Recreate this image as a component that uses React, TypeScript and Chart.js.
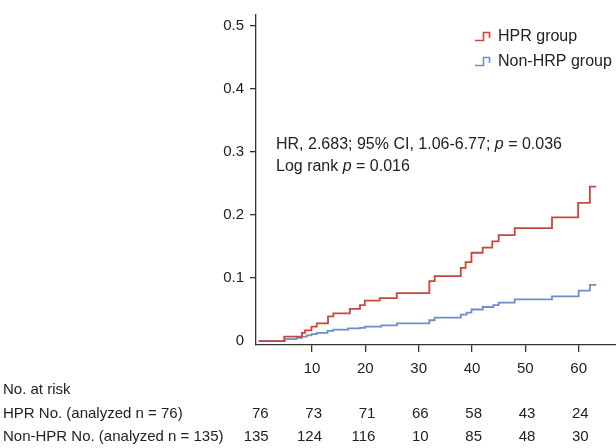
import React, { useEffect, useRef } from "react";
import { Chart, registerables } from "chart.js";

Chart.register(...registerables);

const FONT = '"Liberation Sans", Arial, Helvetica, sans-serif';
const TEXT = "#222222";
const AXIS = "#333333";
const RED = "#c8463c";
const BLUE = "#6b8fc6";

const seriesNames = ["HPR group", "Non-HRP group"];

const hprTimes = [0, 4.8, 8.1, 8.7, 9.9, 10.9, 13.0, 14.0, 17.1, 19.0, 19.9, 22.7, 25.9, 32.0, 33.0, 37.9, 38.8, 39.9, 42.0, 43.8, 45.0, 48.0, 55.0, 59.9, 62.1, 63.3];
const hprValues = [0, 0.007, 0.013, 0.017, 0.023, 0.028, 0.039, 0.044, 0.051, 0.057, 0.064, 0.068, 0.076, 0.095, 0.103, 0.116, 0.125, 0.14, 0.148, 0.158, 0.168, 0.179, 0.196, 0.219, 0.245, 0.245];

const nonTimes = [0, 4.9, 7.1, 8.1, 9.0, 9.9, 10.9, 12.9, 14.0, 16.8, 19.0, 19.9, 23.0, 25.9, 32.0, 33.0, 37.9, 39.0, 39.9, 42.0, 44.0, 45.0, 48.0, 55.0, 60.0, 62.1, 63.3];
const nonValues = [0, 0.003, 0.005, 0.007, 0.009, 0.011, 0.013, 0.016, 0.018, 0.02, 0.021, 0.023, 0.025, 0.028, 0.033, 0.037, 0.042, 0.045, 0.05, 0.054, 0.057, 0.061, 0.066, 0.071, 0.08, 0.089, 0.089];

const xTicks = [10, 20, 30, 40, 50, 60];
const yTicks = [0, 0.1, 0.2, 0.3, 0.4, 0.5];

const riskTitle = "No. at risk";
const riskRowLabels = ["HPR No. (analyzed n = 76)", "Non-HPR No. (analyzed n = 135)"];
const riskTimes = [0, 10, 20, 30, 40, 50, 60];
const hprAtRisk = [76, 73, 71, 66, 58, 43, 24];
const nonAtRisk = [135, 124, 116, 10, 85, 48, 30];

const statLine1 = [
  { t: "HR, 2.683; 95% CI, 1.06-6.77; ", i: false },
  { t: "p", i: true },
  { t: " = 0.036", i: false },
];
const statLine2 = [
  { t: "Log rank ", i: false },
  { t: "p", i: true },
  { t: " = 0.016", i: false },
];

function drawRich(ctx: CanvasRenderingContext2D, parts: { t: string; i: boolean }[], x: number, y: number, size: number) {
  let cx = x;
  for (const p of parts) {
    ctx.font = `${p.i ? "italic " : ""}${size}px ${FONT}`;
    ctx.fillText(p.t, cx, y);
    cx += ctx.measureText(p.t).width;
  }
}

const overlayPlugin = {
  id: "kmOverlay",
  afterDraw(chart: any) {
    const ctx: CanvasRenderingContext2D = chart.ctx;
    const xs = chart.scales.x;
    const area = chart.chartArea;
    ctx.save();
    ctx.fillStyle = TEXT;
    ctx.textBaseline = "alphabetic";

    // legend
    const colors = [RED, BLUE];
    const legendBase = [41, 66];
    const iconX = 475;
    for (let k = 0; k < 2; k++) {
      const b = legendBase[k];
      ctx.strokeStyle = colors[k];
      ctx.lineWidth = 1.6;
      ctx.beginPath();
      ctx.moveTo(iconX, b - 0.5);
      ctx.lineTo(iconX + 8.5, b - 0.5);
      ctx.lineTo(iconX + 8.5, b - 8.5);
      ctx.lineTo(iconX + 14.5, b - 8.5);
      ctx.lineTo(iconX + 14.5, b - 3);
      ctx.stroke();
      ctx.fillStyle = TEXT;
      ctx.textAlign = "left";
      ctx.font = `16px ${FONT}`;
      ctx.fillText(seriesNames[k], 498, b);
    }

    // statistics annotation
    ctx.textAlign = "left";
    drawRich(ctx, statLine1, area.left + 20, 149, 16);
    drawRich(ctx, statLine2, area.left + 20, 171, 16);

    // number at risk table
    ctx.font = `15px ${FONT}`;
    ctx.textAlign = "left";
    ctx.fillText(riskTitle, 3, 394);
    ctx.fillText(riskRowLabels[0], 3, 417.5);
    ctx.fillText(riskRowLabels[1], 3, 440.5);
    ctx.textAlign = "right";
    riskTimes.forEach((t, k) => {
      const px = xs.getPixelForValue(t) + 10;
      ctx.fillText(String(hprAtRisk[k]), px, 418);
      ctx.fillText(String(nonAtRisk[k]), px, 440.5);
    });
    ctx.restore();
  },
};

export default function App() {
  const ref = useRef<HTMLCanvasElement | null>(null);
  useEffect(() => {
    if (!ref.current) return;
    const chart = new Chart(ref.current, {
      type: "line",
      data: {
        datasets: [
          {
            label: seriesNames[0],
            data: hprTimes.map((t, k) => ({ x: t, y: hprValues[k] })),
            borderColor: RED,
            borderWidth: 1.8,
            pointRadius: 0,
            stepped: "before",
            fill: false,
          },
          {
            label: seriesNames[1],
            data: nonTimes.map((t, k) => ({ x: t, y: nonValues[k] })),
            borderColor: BLUE,
            borderWidth: 1.8,
            pointRadius: 0,
            stepped: "before",
            fill: false,
          },
        ],
      },
      options: {
        animation: false,
        responsive: true,
        maintainAspectRatio: false,
        layout: { padding: { left: 216, top: 10, right: 0, bottom: 68 } },
        plugins: { legend: { display: false }, tooltip: { enabled: false } },
        scales: {
          x: {
            type: "linear",
            min: -0.5,
            max: 67,
            border: { display: true, color: AXIS, width: 1.3 },
            grid: { display: true, drawOnChartArea: false, drawTicks: true, tickLength: 7, color: AXIS, lineWidth: 1.3 },
            ticks: { font: { family: FONT, size: 15 }, color: TEXT, padding: 8, autoSkip: false, maxRotation: 0 },
            afterBuildTicks: (s: any) => {
              s.ticks = xTicks.map((v) => ({ value: v }));
            },
            afterFit: (s: any) => {
              s.height = 35;
            },
          },
          y: {
            type: "linear",
            min: -0.00625,
            max: 0.517,
            border: { display: true, color: AXIS, width: 1.3 },
            grid: {
              display: true,
              drawOnChartArea: false,
              drawTicks: true,
              tickLength: 6,
              color: AXIS,
              lineWidth: 1.3,
              tickColor: (c: any) => (c.tick && c.tick.value === 0 ? "rgba(0,0,0,0)" : AXIS),
            },
            ticks: {
              font: { family: FONT, size: 15 },
              color: TEXT,
              padding: 6,
              callback: (v: any) => (Number(v) === 0 ? "0" : Number(v).toFixed(1)),
            },
            afterBuildTicks: (s: any) => {
              s.ticks = yTicks.map((v) => ({ value: v }));
            },
            afterFit: (s: any) => {
              s.width = 40;
            },
          },
        },
      },
      plugins: [overlayPlugin],
    });
    return () => chart.destroy();
  }, []);
  return (
    <div style={{ position: "absolute", left: 0, top: 0, width: 616, height: 448, background: "#fff" }}>
      <canvas ref={ref} />
    </div>
  );
}
